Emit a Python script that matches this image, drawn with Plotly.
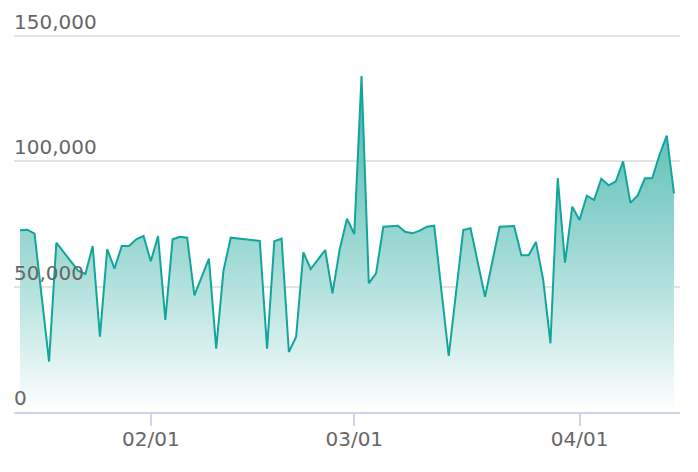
import plotly.graph_objects as go

dates = [
    "2023-01-14", "2023-01-15", "2023-01-16", "2023-01-18", "2023-01-19",
    "2023-01-22", "2023-01-23", "2023-01-24", "2023-01-25", "2023-01-26",
    "2023-01-27", "2023-01-28", "2023-01-29", "2023-01-30", "2023-01-31",
    "2023-02-01", "2023-02-02", "2023-02-03", "2023-02-04", "2023-02-05",
    "2023-02-06", "2023-02-07", "2023-02-09", "2023-02-10", "2023-02-11",
    "2023-02-12", "2023-02-16", "2023-02-17", "2023-02-18", "2023-02-19",
    "2023-02-20", "2023-02-21", "2023-02-22", "2023-02-23", "2023-02-25",
    "2023-02-26", "2023-02-27", "2023-02-28", "2023-03-01", "2023-03-02",
    "2023-03-03", "2023-03-04", "2023-03-05", "2023-03-07", "2023-03-08",
    "2023-03-09", "2023-03-10", "2023-03-11", "2023-03-12", "2023-03-14",
    "2023-03-16", "2023-03-17", "2023-03-19", "2023-03-21", "2023-03-23",
    "2023-03-24", "2023-03-25", "2023-03-26", "2023-03-27", "2023-03-28",
    "2023-03-29", "2023-03-30", "2023-03-31", "2023-04-01", "2023-04-02",
    "2023-04-03", "2023-04-04", "2023-04-05", "2023-04-06", "2023-04-07",
    "2023-04-08", "2023-04-09", "2023-04-10", "2023-04-11", "2023-04-12",
    "2023-04-13", "2023-04-14",
]
values = [
    72390, 72630, 71040, 20040, 67450,
    56290, 54980, 66140, 30000, 64940,
    57090, 66140, 66140, 68800, 70120,
    60040, 70120, 36650, 68800, 69840,
    69440, 46490, 61070, 25220, 56290,
    69440, 68130, 25220, 68010, 69040,
    23900, 30000, 63620, 56970, 64540,
    47290, 64820, 77010, 70920, 133860,
    51270, 55260, 73820, 74220, 71830,
    71190, 72230, 73820, 74220, 22310,
    72510, 73190, 45940, 73820, 74100,
    62430, 62430, 67730, 52590, 27370,
    93230, 59480, 81790, 76490, 86170,
    84460, 92950, 90320, 91910, 99870,
    83300, 86330, 93110, 93110, 102390,
    110080, 87130,
]
y_ticks = [0, 50000, 100000, 150000]
y_tick_labels = ["0", "50,000", "100,000", "150,000"]
x_ticks = ["2023-02-01", "2023-03-01", "2023-04-01"]
x_tick_labels = ["02/01", "03/01", "04/01"]

fig = go.Figure()
fig.add_trace(go.Scatter(
    x=dates, y=values, mode="lines",
    line=dict(color="#12a59b", width=2),
    fill="tozeroy",
    fillgradient=dict(
        type="vertical",
        start=0, stop=max(values),
        colorscale=[[0, "rgba(255,255,255,1)"], [1, "rgba(40,170,160,0.85)"]],
    ),
    hoverinfo="x+y",
))

# page body has an 8px default margin, so the figure is 8px smaller
fig.update_layout(
    width=690, height=464,
    margin=dict(l=6, r=18, t=0, b=60),
    paper_bgcolor="white", plot_bgcolor="white",
    showlegend=False,
    font=dict(family="DejaVu Sans", size=20, color="#666666"),
    xaxis=dict(
        type="date", automargin=False,
        range=["2023-01-13 04:10", "2023-04-14 19:50"],
        tickvals=x_ticks, ticktext=x_tick_labels,
        showgrid=False, zeroline=False,
        showline=True, linecolor="#ccd6eb", linewidth=2,
        ticks="outside", ticklen=12, tickcolor="#ccd6eb", tickwidth=2,
        ticklabelstandoff=-4,
        tickfont=dict(size=20, color="#666666"),
    ),
    yaxis=dict(
        automargin=False,
        range=[0, 160960],
        tickvals=y_ticks, ticktext=y_tick_labels,
        showgrid=True, gridcolor="#e3e3e3", gridwidth=1.5,
        zeroline=False, showline=False,
        ticklabelposition="inside top",
        ticklabelstandoff=-3,
        tickfont=dict(size=20, color="#666666"),
    ),
)

fig.write_html("out.html")
